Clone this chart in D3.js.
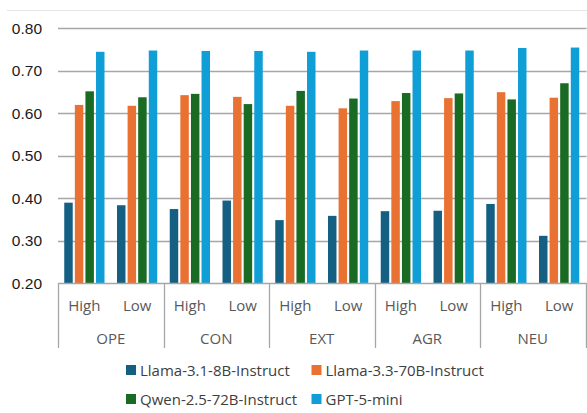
<!DOCTYPE html>
<html><head><meta charset="utf-8">
<script src="https://cdn.jsdelivr.net/npm/d3@7"></script>
<style>body{margin:0;background:#fff}svg{display:block}</style>
</head><body>
<svg id="c" width="587" height="413"></svg>
<script>
const traits = ["OPE","CON","EXT","AGR","NEU"];
const levels = ["High","Low"];
const seriesNames = ["Llama-3.1-8B-Instruct","Llama-3.3-70B-Instruct","Qwen-2.5-72B-Instruct","GPT-5-mini"];
const seriesColors = ["#156082","#E97132","#196B24","#0F9ED5"];
// values per series, order: OPE High, OPE Low, CON High, CON Low, EXT High, EXT Low, AGR High, AGR Low, NEU High, NEU Low
const llama8b  = [0.389,0.383,0.374,0.394,0.348,0.358,0.369,0.370,0.386,0.311];
const llama70b = [0.619,0.617,0.642,0.638,0.617,0.611,0.628,0.635,0.649,0.636];
const qwen72b  = [0.651,0.637,0.645,0.621,0.652,0.634,0.647,0.646,0.632,0.670];
const gpt5mini = [0.744,0.747,0.746,0.746,0.744,0.747,0.747,0.747,0.753,0.754];
const yTicks = [0.20,0.30,0.40,0.50,0.60,0.70,0.80];

const seriesVals = [llama8b, llama70b, qwen72b, gpt5mini];
const cells = [];
traits.forEach(t => levels.forEach(l => cells.push(t + "|" + l)));

const svg = d3.select("#c");
const L = 58, R = 585.5, T = 28, B = 283;

const y = d3.scaleLinear().domain([0.2,0.8]).range([B,T]);
const xG = d3.scaleBand().domain(traits).range([L,R]);
const xC = d3.scaleBand().domain(cells).range([L,R]);
const xS = d3.scaleBand().domain(seriesNames).range([0,xC.bandwidth()]).paddingInner(0.2).paddingOuter(0.59);

// top faint border
svg.append("line").attr("x1",7).attr("x2",587).attr("y1",10.5).attr("y2",10.5)
  .attr("stroke","#e6e6e6").attr("stroke-width",1.2);

// gridlines
svg.append("g").selectAll("line").data(yTicks.slice(1)).join("line")
  .attr("x1",L).attr("x2",R+1).attr("y1",d=>Math.round(y(d))+0.5).attr("y2",d=>Math.round(y(d))+0.5)
  .attr("stroke","#a6a6a6").attr("stroke-width",1.3);

// y labels
svg.append("g").selectAll("text").data(yTicks).join("text")
  .attr("x",42).attr("y",d=>y(d)+5.5).attr("text-anchor","end")
  .attr("font-family","Liberation Sans, Arial, sans-serif").attr("font-size",15.5).attr("fill","#1a1a1a")
  .text(d=>d3.format(".2f")(d));

// bars
seriesNames.forEach((s,si)=>{
  svg.append("g").selectAll("rect").data(cells).join("rect")
    .attr("x",(c)=>xC(c)+xS(s))
    .attr("width",xS.bandwidth())
    .attr("y",(c,i)=>y(seriesVals[si][i]))
    .attr("height",(c,i)=>B-y(seriesVals[si][i]))
    .attr("fill",seriesColors[si]);
});

// bottom axis
const ax = svg.append("g").attr("stroke","#a6a6a6").attr("stroke-width",1.3);
ax.append("line").attr("x1",L).attr("x2",R+1).attr("y1",B+0.5).attr("y2",B+0.5);
const seps = traits.map(t=>xG(t)).concat([R]);
ax.selectAll("line.sep").data(seps).join("line").attr("class","sep")
  .attr("x1",d=>Math.round(d)+0.5).attr("x2",d=>Math.round(d)+0.5).attr("y1",B).attr("y2",348);

const lblFont = "Open Sans, Noto Sans, sans-serif";
svg.append("g").selectAll("text").data(cells).join("text")
  .attr("x",c=>xC(c)+xC.bandwidth()/2).attr("y",311).attr("text-anchor","middle")
  .attr("font-family",lblFont).attr("font-size",15).attr("fill","#595959")
  .text(c=>c.split("|")[1]);
svg.append("g").selectAll("text").data(traits).join("text")
  .attr("x",t=>xG(t)+xG.bandwidth()/2).attr("y",344).attr("text-anchor","middle")
  .attr("font-family",lblFont).attr("font-size",15).attr("fill","#595959")
  .text(t=>t);

// legend
const legPos = [[126,370],[311.5,370],[126,399],[311.5,399]];
const lg = svg.append("g").selectAll("g").data(seriesNames).join("g")
  .attr("transform",(d,i)=>`translate(${legPos[i][0]},${legPos[i][1]})`);
lg.append("rect").attr("x",0).attr("y",-5).attr("width",10).attr("height",10)
  .attr("fill",(d,i)=>seriesColors[i]);
lg.append("text").attr("x",14).attr("y",5.5)
  .attr("font-family",lblFont).attr("font-size",15).attr("fill","#404040")
  .text(d=>d);
</script>
</body></html>
